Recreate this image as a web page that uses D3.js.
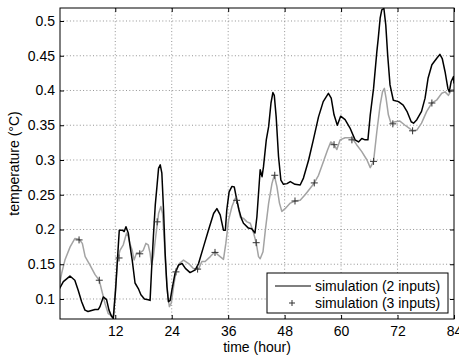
<!DOCTYPE html>
<html>
<head>
<meta charset="utf-8">
<script src="https://cdn.jsdelivr.net/npm/d3@7"></script>
<style>
  body { margin: 0; background: #fff; }
  svg { display: block; font-family: "Liberation Sans", Arial, sans-serif; }
</style>
</head>
<body>
<div id="chart"></div>
<script>
// simulation (2 inputs) — black line
const timeA = [
  0, 0.96, 2.37, 3.4, 4.1, 4.85, 5.56, 6.2, 7.7, 8.4,
  8.75, 9.45, 10.15, 10.66, 11.2, 11.58, 12.07, 12.5, 12.85, 13.5,
  13.9, 14.27, 14.76, 15.1, 15.6, 16.2, 16.9, 17.45, 18.2, 19.0,
  19.4, 19.7, 20.1, 20.5, 20.9, 21.2, 21.56, 21.9, 22.26, 22.6,
  22.98, 23.3, 23.67, 24.04, 24.7, 25.45, 26.2, 26.9, 27.9, 29.0,
  29.7, 30.75, 31.8, 32.9, 33.6, 34.3, 35.0, 35.4, 35.7, 36.2,
  36.8, 37.3, 37.85, 38.3, 38.8, 39.25, 40.3, 41.0, 41.7, 42.1,
  42.8, 43.2, 43.5, 44.1, 44.6, 45.1, 45.5, 45.8, 46.2, 46.7,
  47.2, 47.75, 48.5, 49.2, 50.2, 51.3, 52.0, 53.1, 54.1, 55.2,
  56.2, 57.3, 57.9, 58.5, 59.2, 59.9, 60.85, 61.9, 62.97, 63.7,
  64.4, 65.1, 65.7, 66.2, 66.9, 67.6, 67.9, 68.3, 68.65, 69.1,
  69.5, 69.9, 70.4, 71.1, 72.2, 73.2, 74.0, 74.9, 75.4, 76.1,
  77.1, 77.85, 78.5, 79.3, 80.3, 81.0, 81.5, 82.1, 82.7, 83.0,
  83.4, 83.9, 84
];
const tempA = [
  0.113, 0.125, 0.133, 0.127, 0.113, 0.096, 0.084, 0.082, 0.085, 0.085,
  0.089, 0.103, 0.099, 0.084, 0.075, 0.072, 0.113, 0.161, 0.199, 0.199,
  0.197, 0.204, 0.195, 0.178, 0.156, 0.123, 0.115, 0.106, 0.100, 0.099,
  0.098, 0.140, 0.190, 0.235, 0.265, 0.288, 0.293, 0.281, 0.228, 0.166,
  0.118, 0.096, 0.098, 0.113, 0.137, 0.149, 0.151, 0.144, 0.138, 0.142,
  0.151, 0.175, 0.199, 0.223, 0.230, 0.221, 0.199, 0.199, 0.228, 0.254,
  0.262, 0.261, 0.242, 0.228, 0.216, 0.209, 0.202, 0.201, 0.195, 0.218,
  0.286, 0.276, 0.290, 0.329, 0.348, 0.382, 0.397, 0.393, 0.362, 0.305,
  0.271, 0.265, 0.266, 0.269, 0.265, 0.264, 0.274, 0.300, 0.329, 0.362,
  0.384, 0.396, 0.389, 0.365, 0.350, 0.363, 0.358, 0.346, 0.329, 0.326,
  0.331, 0.329, 0.329, 0.365, 0.403, 0.456, 0.475, 0.504, 0.516, 0.518,
  0.494, 0.451, 0.408, 0.386, 0.384, 0.379, 0.370, 0.355, 0.353, 0.358,
  0.370, 0.389, 0.418, 0.437, 0.446, 0.452, 0.446, 0.427, 0.403, 0.398,
  0.413, 0.420, 0.410
];

// simulation (3 inputs) — grey line
const timeB = [
  0, 0.6, 1.3, 2.4, 3.4, 4.3, 5.0, 5.6, 6.6, 7.7,
  8.6, 9.1, 9.8, 10.5, 11.2, 11.6, 12.07, 12.5, 13.0, 13.7,
  14.4, 14.76, 15.1, 15.6, 16.0, 16.5, 17.2, 17.95, 18.5, 19.0,
  19.4, 19.7, 20.1, 20.6, 21.0, 21.2, 21.7, 22.05, 22.4, 22.8,
  23.2, 23.5, 23.9, 24.4, 24.9, 25.6, 26.5, 27.6, 28.6, 29.7,
  30.4, 31.1, 32.2, 33.2, 33.9, 35.0, 35.5, 36.1, 36.8, 37.5,
  37.85, 38.55, 39.25, 40.0, 40.7, 41.4, 41.95, 42.45, 42.8, 43.4,
  43.9, 44.6, 45.3, 45.8, 46.35, 46.9, 47.4, 48.1, 49.2, 50.2,
  51.3, 52.35, 53.4, 54.3, 55.2, 56.1, 57.1, 57.8, 58.5, 59.1,
  59.8, 60.85, 62.3, 63.3, 64.4, 65.5, 66.2, 66.9, 67.6, 68.3,
  68.8, 69.2, 69.56, 70.05, 70.6, 71.5, 72.5, 73.6, 74.6, 75.2,
  76.1, 77.1, 78.2, 79.3, 80.3, 81.4, 82.1, 82.8, 83.5, 84
];
const tempB = [
  0.115, 0.137, 0.156, 0.175, 0.187, 0.186, 0.180, 0.161, 0.149, 0.135,
  0.127, 0.113, 0.094, 0.079, 0.076, 0.075, 0.118, 0.156, 0.170, 0.178,
  0.195, 0.190, 0.180, 0.170, 0.156, 0.166, 0.166, 0.170, 0.180, 0.178,
  0.166, 0.149, 0.161, 0.190, 0.211, 0.223, 0.233, 0.223, 0.185, 0.137,
  0.103, 0.089, 0.094, 0.118, 0.139, 0.151, 0.156, 0.151, 0.144, 0.143,
  0.154, 0.154, 0.161, 0.168, 0.163, 0.157, 0.180, 0.214, 0.233, 0.245,
  0.242, 0.218, 0.216, 0.211, 0.209, 0.195, 0.181, 0.161, 0.158, 0.168,
  0.199, 0.238, 0.266, 0.278, 0.262, 0.238, 0.226, 0.230, 0.238, 0.241,
  0.242, 0.250, 0.259, 0.267, 0.278, 0.295, 0.314, 0.326, 0.322, 0.315,
  0.329, 0.332, 0.332, 0.322, 0.312, 0.300, 0.289, 0.298, 0.341, 0.379,
  0.398, 0.403, 0.389, 0.365, 0.353, 0.355, 0.356, 0.350, 0.345, 0.342,
  0.343, 0.353, 0.370, 0.382, 0.386, 0.396, 0.398, 0.393, 0.401, 0.401
];

// '+' markers of the 3-input run
const markerTime = [4.3, 8.6, 12.8, 17.2, 20.9, 24.9, 29.5, 33.2, 37.8, 41.95,
  45.9, 50.2, 54.3, 58.5, 62.3, 66.9, 71.0, 75.2, 79.3];
const markerTemp = [0.185, 0.127, 0.159, 0.165, 0.211, 0.139, 0.143, 0.167, 0.242, 0.181,
  0.278, 0.241, 0.267, 0.322, 0.329, 0.298, 0.352, 0.342, 0.382];

const xTicks = [12, 24, 36, 48, 60, 72, 84];
const yTicks = [0.1, 0.15, 0.2, 0.25, 0.3, 0.35, 0.4, 0.45, 0.5];
const legendLabels = ['simulation (2 inputs)', 'simulation (3 inputs)'];

const width = 459, height = 357;
const margin = { top: 8, right: 5, bottom: 38, left: 60 };
const innerW = width - margin.left - margin.right;
const innerH = height - margin.top - margin.bottom;

const svg = d3.select('#chart').append('svg')
  .attr('width', width)
  .attr('height', height);

const g = svg.append('g')
  .attr('transform', `translate(${margin.left},${margin.top})`);

const x = d3.scaleLinear().domain([0.25, 84]).range([0, innerW]);
const y = d3.scaleLinear().domain([0.0712, 0.5187]).range([innerH, 0]);

// dotted grid
g.append('g').selectAll('line')
  .data(xTicks.filter(d => d < 84))
  .join('line')
    .attr('x1', d => x(d)).attr('x2', d => x(d))
    .attr('y1', 0).attr('y2', innerH)
    .attr('stroke', '#666').attr('stroke-width', 0.7)
    .attr('stroke-dasharray', '1,2.3');
g.append('g').selectAll('line')
  .data(yTicks)
  .join('line')
    .attr('x1', 0).attr('x2', innerW)
    .attr('y1', d => y(d)).attr('y2', d => y(d))
    .attr('stroke', '#666').attr('stroke-width', 0.7)
    .attr('stroke-dasharray', '1,2.3');

g.append('clipPath').attr('id', 'clip')
  .append('rect').attr('width', innerW).attr('height', innerH);

const line = d3.line().x(d => x(d[0])).y(d => y(d[1]));
const plot = g.append('g').attr('clip-path', 'url(#clip)');

plot.append('path')
  .datum(timeB.map((t, i) => [t, tempB[i]]))
  .attr('fill', 'none').attr('stroke', '#a3a3a3').attr('stroke-width', 1.5)
  .attr('stroke-linejoin', 'round')
  .attr('d', line);

plot.append('path')
  .datum(timeA.map((t, i) => [t, tempA[i]]))
  .attr('fill', 'none').attr('stroke', '#000').attr('stroke-width', 1.5)
  .attr('stroke-linejoin', 'round')
  .attr('d', line);

const plusPath = (s) => `M${-s},0H${s}M0,${-s}V${s}`;

plot.selectAll('path.mk')
  .data(markerTime.map((t, i) => [t, markerTemp[i]]))
  .join('path')
    .attr('class', 'mk')
    .attr('transform', d => `translate(${x(d[0])},${y(d[1])})`)
    .attr('d', plusPath(3.5))
    .attr('stroke', '#333').attr('stroke-width', 1).attr('fill', 'none');

// axes: MATLAB style inward ticks on all four sides
const fmt = d => String(+d.toFixed(2));

g.append('g')
  .attr('transform', `translate(0,${innerH})`)
  .call(d3.axisBottom(x).tickValues(xTicks).tickSize(-4).tickPadding(7));
g.append('g')
  .call(d3.axisTop(x).tickValues(xTicks).tickSize(-4).tickFormat(''));
g.append('g')
  .call(d3.axisLeft(y).tickValues(yTicks).tickSize(-4).tickPadding(5).tickFormat(fmt));
g.append('g')
  .attr('transform', `translate(${innerW},0)`)
  .call(d3.axisRight(y).tickValues(yTicks).tickSize(-4).tickFormat(''));

g.selectAll('.domain').remove();
g.selectAll('.tick line').attr('stroke', '#000');
g.selectAll('.tick text')
  .attr('font-size', 14)
  .attr('font-family', '"Liberation Sans", Arial, sans-serif')
  .attr('fill', '#000');

g.append('rect')
  .attr('width', innerW).attr('height', innerH)
  .attr('fill', 'none').attr('stroke', '#000').attr('stroke-width', 1);

// axis labels
svg.append('text')
  .attr('x', margin.left + innerW / 2)
  .attr('y', 352)
  .attr('text-anchor', 'middle')
  .attr('font-size', 14)
  .text('time (hour)');

svg.append('text')
  .attr('transform', `translate(19,${margin.top + innerH / 2}) rotate(-90)`)
  .attr('text-anchor', 'middle')
  .attr('font-size', 14)
  .text('temperature (°C)');

// legend
const legend = svg.append('g').attr('transform', 'translate(267,273)');
legend.append('rect')
  .attr('width', 181).attr('height', 40)
  .attr('fill', '#fff').attr('stroke', '#000').attr('stroke-width', 1);

legend.append('line')
  .attr('x1', 8).attr('x2', 44).attr('y1', 13).attr('y2', 13)
  .attr('stroke', '#000').attr('stroke-width', 1.2);
legend.append('path')
  .attr('transform', 'translate(25,30)')
  .attr('d', plusPath(3))
  .attr('stroke', '#333').attr('stroke-width', 1).attr('fill', 'none');

legend.selectAll('text')
  .data(legendLabels)
  .join('text')
    .attr('x', 48)
    .attr('y', (d, i) => 13 + i * 17)
    .attr('dy', '0.35em')
    .attr('font-size', 14)
    .text(d => d);
</script>
</body>
</html>
